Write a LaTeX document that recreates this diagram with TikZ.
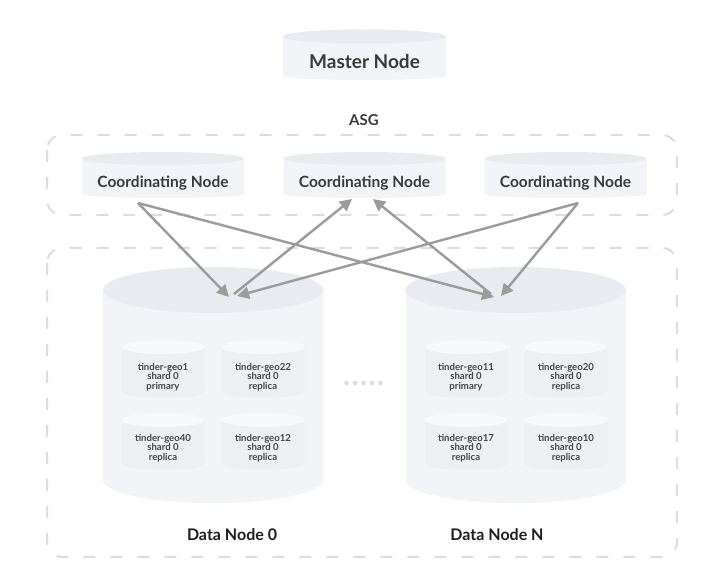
\documentclass[tikz,border=0pt]{standalone}
\usepackage{fontspec}
\setmainfont{Lato}
\usetikzlibrary{arrows.meta}
\definecolor{dashc}{HTML}{D9DDE4}
\definecolor{bodyc}{HTML}{F3F4F7}
\definecolor{topc}{HTML}{E8EBF0}
\definecolor{ibodyc}{HTML}{EDEFF3}
\definecolor{itopc}{HTML}{F8F9FA}
\definecolor{arrowc}{HTML}{9B9B9B}
\definecolor{txtA}{HTML}{3A3A3A}
\definecolor{txtB}{HTML}{1E1E1E}
\definecolor{txtC}{HTML}{454545}
\definecolor{dotc}{HTML}{D6DAE1}
\begin{document}
\begin{tikzpicture}[x=1pt,y=-1pt,
  pics/dbcyl/.style n args={6}{code={
     \fill[#5] (-#1/2,0) -- (-#1/2,#2) arc[start angle=180,end angle=0,x radius=#1/2,y radius=#4] -- (#1/2,0) -- cycle;
     \fill[#6] (0,0) ellipse[x radius=#1/2,y radius=#3];
  }},
  boxline/.style={draw=dashc, line width=2pt, dash pattern=on 12pt off 15pt, rounded corners=15pt},
  bigtxt/.style={font=\bfseries\fontsize{19}{22}\selectfont, text=txtA},
  coordtxt/.style={font=\bfseries\fontsize{15.5}{18}\selectfont, text=txtA},
  labeltxt/.style={font=\bfseries\fontsize{16}{19}\selectfont, text=txtB},
  asgtxt/.style={font=\bfseries\fontsize{15}{18}\selectfont, text=txtA},
  shardtxt/.style={font=\bfseries\fontsize{9.6}{9.6}\selectfont, text=txtC, align=center},
  conn/.style={draw=arrowc, line width=2.4pt, -{Triangle[length=12pt,width=12pt]}},
  dot/.style={fill=dotc}
]
\useasboundingbox (0,0) rectangle (724,585);
\fill[white] (0,0) rectangle (724,585);

% dashed group boxes
\draw[boxline] (47,135) rectangle (677,215);
\draw[boxline] (47,248) rectangle (677,557);

% master node
\pic at (364.5,36.5) {dbcyl={163}{39.5}{7}{4}{bodyc}{topc}};
\node[bigtxt] (m) at (364.5,62) {Master Node};
\node[asgtxt] (asg) at (364,120) {ASG};

% coordinating nodes
\pic at (163,158.5) {dbcyl={162}{35.5}{6.5}{4}{bodyc}{topc}};
\pic at (364.5,158.5) {dbcyl={162}{35.5}{6.5}{4}{bodyc}{topc}};
\pic at (565.5,158.5) {dbcyl={162}{35.5}{6.5}{4}{bodyc}{topc}};
\node[coordtxt] (c1) at (163,183) {Coordinating Node};
\node[coordtxt] (c2) at (364.5,183) {Coordinating Node};
\node[coordtxt] (c3) at (565.5,183) {Coordinating Node};

% data nodes
\pic at (213,290) {dbcyl={220}{190}{23}{23}{bodyc}{topc}};
\pic at (515.5,290) {dbcyl={220}{190}{23}{23}{bodyc}{topc}};
\node[labeltxt] (d0) at (232,535) {Data Node 0};
\node[labeltxt] (dN) at (497,535) {Data Node N};

% shards in data node 0
\pic at (163,347) {dbcyl={83}{44}{7}{7}{ibodyc}{itopc}};
\pic at (263,347) {dbcyl={83}{44}{7}{7}{ibodyc}{itopc}};
\pic at (163,420) {dbcyl={83}{43}{7}{7}{ibodyc}{itopc}};
\pic at (263,420) {dbcyl={83}{43}{7}{7}{ibodyc}{itopc}};
\node[shardtxt] (s1) at (163,377) {tinder-geo1\\shard 0\\primary};
\node[shardtxt] (s22) at (263,377) {tinder-geo22\\shard 0\\replica};
\node[shardtxt] (s40) at (163,448) {tinder-geo40\\shard 0\\replica};
\node[shardtxt] (s12) at (263,448) {tinder-geo12\\shard 0\\replica};

% shards in data node N
\pic at (466,347) {dbcyl={83}{44}{7}{7}{ibodyc}{itopc}};
\pic at (566,347) {dbcyl={83}{44}{7}{7}{ibodyc}{itopc}};
\pic at (466,420) {dbcyl={83}{43}{7}{7}{ibodyc}{itopc}};
\pic at (566,420) {dbcyl={83}{43}{7}{7}{ibodyc}{itopc}};
\node[shardtxt] (s11) at (466,377) {tinder-geo11\\shard 0\\primary};
\node[shardtxt] (s20) at (566,377) {tinder-geo20\\shard 0\\replica};
\node[shardtxt] (s17) at (466,448) {tinder-geo17\\shard 0\\replica};
\node[shardtxt] (s10) at (566,448) {tinder-geo10\\shard 0\\replica};

% dots
\foreach \i in {0,...,4} { \fill[dot] (346.5+8.5*\i,383) circle[radius=2.2]; }

% connector end points
\coordinate (c1o) at (138,203);
\coordinate (c3o) at (578,203);
\coordinate (c2a) at (352,199);
\coordinate (c2b) at (373,199);
\coordinate (d0a) at (229,297);
\coordinate (d0b) at (237,296);
\coordinate (d0o) at (234,294);
\coordinate (dNa) at (494,297);
\coordinate (dNb) at (501,296);
\coordinate (dNo) at (491,294);

% connectors
\draw[conn] (c1o) -- (d0a);
\draw[conn] (c1o) -- (dNa);
\draw[conn] (c3o) -- (d0b);
\draw[conn] (c3o) -- (dNb);
\draw[conn] (d0o) -- (c2a);
\draw[conn] (dNo) -- (c2b);
\end{tikzpicture}
\end{document}
